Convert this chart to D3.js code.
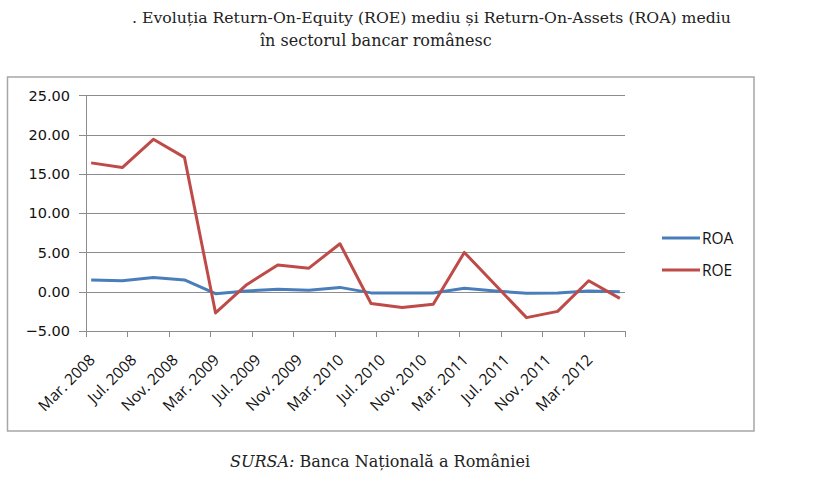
<!DOCTYPE html>
<html>
<head>
<meta charset="utf-8">
<script src="https://cdn.jsdelivr.net/npm/d3@7"></script>
<style>
  body { margin: 0; background: #fff; }
  svg { display: block; }
  .title { font-family: "DejaVu Serif", serif; font-size: 16px; fill: #222; }
  .ylab { font-family: "DejaVu Sans", sans-serif; font-size: 14.5px; fill: #111; }
  .xlab { font-family: "Open Sans", sans-serif; font-size: 15.5px; fill: #111; }
  .leg { font-family: "Open Sans", sans-serif; font-size: 15.5px; fill: #111; }
  .src { font-family: "DejaVu Serif", serif; font-size: 16px; fill: #222; }
</style>
</head>
<body>
<svg id="chart" width="831" height="482"></svg>
<script>
// quarterly observations (end of quarter)
const periods = ["2008-03", "2008-06", "2008-09", "2008-12", "2009-03", "2009-06", "2009-09", "2009-12",
  "2010-03", "2010-06", "2010-09", "2010-12", "2011-03", "2011-06", "2011-09", "2011-12", "2012-03", "2012-06"];
const roa = [1.5, 1.4, 1.8, 1.5, -0.25, 0.1, 0.3, 0.2, 0.55, -0.15, -0.15, -0.15, 0.45, 0.1, -0.2, -0.15, 0.1, 0.0];
const roe = [16.4, 15.8, 19.4, 17.1, -2.7, 0.9, 3.4, 3.0, 6.1, -1.5, -2.0, -1.6, 5.0, 0.85, -3.3, -2.5, 1.4, -0.85];
const seriesNames = ["ROA", "ROE"];
const seriesColors = ["#4a7ebb", "#be4b48"];
const yTicks = [-5, 0, 5, 10, 15, 20, 25];
// x axis is a month axis with a tick every 4 months starting Mar. 2008
const xTickLabels = ["Mar. 2008", "Jul. 2008", "Nov. 2008", "Mar. 2009", "Jul. 2009", "Nov. 2009", "Mar. 2010",
  "Jul. 2010", "Nov. 2010", "Mar. 2011", "Jul. 2011", "Nov. 2011", "Mar. 2012", ""];
const titleLines = [". Evoluția Return-On-Equity (ROE) mediu și Return-On-Assets (ROA) mediu", "în sectorul bancar românesc"];

const svg = d3.select('#chart');
const P = { l: 86, r: 625, t: 95.3, b: 331 };

// month offset from Mar. 2008, points sit mid-month
const monthOf = p => { const [yy, mm] = p.split('-').map(Number); return (yy - 2008) * 12 + (mm - 3) + 0.5; };
const x = d3.scaleLinear().domain([0, (xTickLabels.length - 1) * 4]).range([P.l, P.r]);
const y = d3.scaleLinear().domain([-5, 25]).range([P.b, P.t]);

// title
svg.append('text').attr('class', 'title').attr('x', 132).attr('y', 23).style('font-size', '15.7px').text(titleLines[0]);
svg.append('text').attr('class', 'title').attr('x', 260).attr('y', 46).text(titleLines[1]);

// chart frame
svg.append('rect').attr('x', 7.5).attr('y', 77).attr('width', 746.5).attr('height', 354)
  .attr('fill', 'none').attr('stroke', '#a6a6a6').attr('stroke-width', 1.5);

// gridlines + y labels
const gy = svg.append('g');
gy.selectAll('line').data(yTicks).join('line')
  .attr('x1', P.l - 7).attr('x2', P.r).attr('y1', d => Math.round(y(d)) + 0.5).attr('y2', d => Math.round(y(d)) + 0.5)
  .attr('stroke', '#8c8c8c').attr('stroke-width', 1);
gy.selectAll('text').data(yTicks).join('text').attr('class', 'ylab')
  .attr('x', 70).attr('y', d => y(d)).attr('dy', '0.36em').attr('text-anchor', 'end')
  .text(d3.format('.2f'));
svg.append('line').attr('x1', P.l + 0.5).attr('x2', P.l + 0.5).attr('y1', y(25)).attr('y2', y(-5))
  .attr('stroke', '#8c8c8c');

// x ticks + rotated labels
const ticks = d3.range(xTickLabels.length).map(i => i * 4);
const gx = svg.append('g');
gx.selectAll('line').data(ticks).join('line')
  .attr('x1', d => Math.round(x(d)) + 0.5).attr('x2', d => Math.round(x(d)) + 0.5)
  .attr('y1', y(-5)).attr('y2', y(-5) + 6).attr('stroke', '#8c8c8c');
gx.selectAll('text').data(ticks).join('text').attr('class', 'xlab')
  .attr('text-anchor', 'end')
  .attr('transform', d => `translate(${x(d) + 10},${y(-5) + 30}) rotate(-45)`)
  .text((d, i) => xTickLabels[i]);

// lines
const line = d3.line().x(d => x(monthOf(d.p))).y(d => y(d.v));
[roa, roe].forEach((vals, k) => {
  const pts = periods.map((p, i) => ({ p, v: vals[i] }));
  svg.append('path').datum(pts).attr('d', line).attr('fill', 'none')
    .attr('stroke', seriesColors[k]).attr('stroke-width', 3).attr('stroke-linejoin', 'round');
});

// legend
seriesNames.forEach((n, k) => {
  const ly = 238 + k * 32;
  svg.append('line').attr('x1', 662).attr('x2', 700).attr('y1', ly).attr('y2', ly)
    .attr('stroke', seriesColors[k]).attr('stroke-width', 3);
  svg.append('text').attr('class', 'leg').attr('x', 702).attr('y', ly).attr('dy', '0.36em').text(n);
});

// source
const src = svg.append('text').attr('class', 'src').attr('x', 230).attr('y', 467);
src.append('tspan').attr('font-style', 'italic').text('SURSA:');
src.append('tspan').text(' Banca Națională a României');
</script>
</body>
</html>
